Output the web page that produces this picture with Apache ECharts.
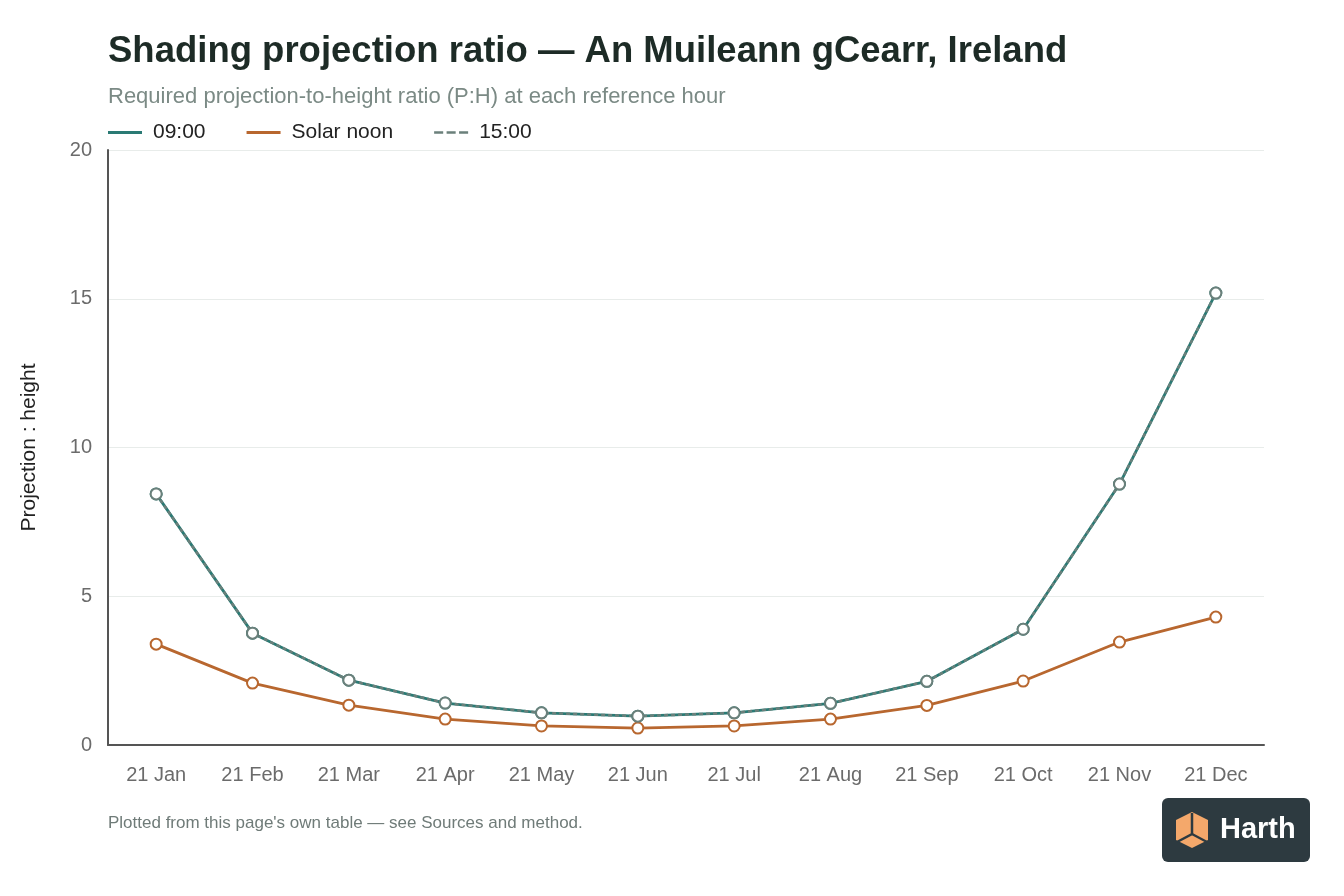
<!DOCTYPE html>
<html>
<head>
<meta charset="utf-8">
<script src="https://cdn.jsdelivr.net/npm/echarts@6/dist/echarts.min.js"></script>
<style>
html,body{margin:0;padding:0;background:#fff;}
#chart{width:1344px;height:896px;}
</style>
</head>
<body>
<div id="chart"></div>
<script>
const categories = ['21 Jan','21 Feb','21 Mar','21 Apr','21 May','21 Jun','21 Jul','21 Aug','21 Sep','21 Oct','21 Nov','21 Dec'];
const morning = [8.44, 3.76, 2.18, 1.41, 1.08, 0.97, 1.08, 1.40, 2.14, 3.89, 8.77, 15.19];
const noon = [3.39, 2.08, 1.34, 0.87, 0.64, 0.57, 0.64, 0.87, 1.33, 2.15, 3.46, 4.30];
const afternoon = [8.44, 3.76, 2.18, 1.41, 1.08, 0.97, 1.08, 1.40, 2.14, 3.89, 8.77, 15.19];
const yTicks = [0, 5, 10, 15, 20];

const font = 'Helvetica Neue, Liberation Sans, Arial, sans-serif';
const cMorning = '#2a7a74', cNoon = '#b8672f', cAfternoon = '#6b807b';
const chart = echarts.init(document.getElementById('chart'));
chart.setOption({
  backgroundColor: '#ffffff',
  animation: false,
  title: [{
    text: 'Shading projection ratio — An Muileann gCearr, Ireland',
    left: 108, top: 33, padding: 0,
    textStyle: {fontFamily: font, fontSize: 36.5, fontWeight: 'bold', color: '#1d2b26'}
  }, {
    text: 'Required projection-to-height ratio (P:H) at each reference hour',
    left: 108, top: 86, padding: 0,
    textStyle: {fontFamily: font, fontSize: 22, fontWeight: 'normal', color: '#7b8a85'}
  }, {
    text: "Plotted from this page's own table — see Sources and method.",
    left: 108, top: 815, padding: 0,
    textStyle: {fontFamily: font, fontSize: 17, fontWeight: 'normal', color: '#6f7b78'}
  }],
  legend: {
    left: 108, top: 122, padding: 0,
    itemWidth: 34, itemHeight: 3, itemGap: 41,
    textStyle: {fontFamily: font, fontSize: 21, color: '#222', padding: [0, 0, 0, 6]},
    data: [
      {name: '09:00', icon: 'rect', itemStyle: {color: cMorning, borderWidth: 0}},
      {name: 'Solar noon', icon: 'rect', itemStyle: {color: cNoon, borderWidth: 0}},
      {name: '15:00', icon: 'path://M0,0h8v2h-8z M11,0h8v2h-8z M22,0h8v2h-8z', itemStyle: {color: cAfternoon, borderWidth: 0}}
    ]
  },
  grid: {left: 108, right: 80, top: 150, bottom: 151},
  xAxis: {
    type: 'category',
    data: categories,
    boundaryGap: true,
    axisLine: {lineStyle: {color: '#555', width: 2}},
    axisTick: {show: false},
    axisLabel: {fontFamily: font, fontSize: 20, color: '#6b6b6b', margin: 20}
  },
  yAxis: {
    type: 'value',
    min: 0, max: 20, interval: 5,
    name: 'Projection : height',
    nameLocation: 'middle',
    nameGap: 68,
    nameTextStyle: {fontFamily: font, fontSize: 21, color: '#222'},
    axisLine: {show: true, lineStyle: {color: '#555', width: 2}},
    axisTick: {show: false},
    axisLabel: {fontFamily: font, fontSize: 20, color: '#6b6b6b', margin: 16,
      formatter: v => yTicks.includes(v) ? String(v) : ''},
    splitLine: {lineStyle: {color: '#e8ecea', width: 1}}
  },
  series: [{
    name: '09:00', type: 'line', data: morning,
    color: cMorning,
    lineStyle: {width: 2.8, color: cMorning},
    symbol: 'circle', symbolSize: 11,
    itemStyle: {color: '#fff', borderColor: cMorning, borderWidth: 2}
  }, {
    name: 'Solar noon', type: 'line', data: noon,
    color: cNoon,
    lineStyle: {width: 2.8, color: cNoon},
    symbol: 'circle', symbolSize: 11,
    itemStyle: {color: '#fff', borderColor: cNoon, borderWidth: 2}
  }, {
    name: '15:00', type: 'line', data: afternoon,
    color: cAfternoon,
    lineStyle: {width: 2.5, color: cAfternoon, type: [4, 3]},
    symbol: 'circle', symbolSize: 11,
    itemStyle: {color: '#fff', borderColor: cAfternoon, borderWidth: 2}
  }],
  graphic: [{
    type: 'group', left: 1162, top: 798,
    children: [{
      type: 'rect', shape: {x: 0, y: 0, width: 148, height: 64, r: 6},
      style: {fill: '#2d3a40'}
    }, {
      type: 'polygon', shape: {points: [[30,14],[46,22],[46,42],[30,50],[14,42],[14,22]]},
      style: {fill: '#f4a86b'}
    }, {
      type: 'polyline', shape: {points: [[30,15],[30,36],[15,44]]},
      style: {stroke: '#2d3a40', lineWidth: 2.5, fill: null}
    }, {
      type: 'polyline', shape: {points: [[30,36],[45,44]]},
      style: {stroke: '#2d3a40', lineWidth: 2.5, fill: null}
    }, {
      type: 'text', x: 58, y: 17,
      style: {text: 'Harth', fill: '#ffffff', font: 'bold 29px ' + font}
    }]
  }]
});
</script>
</body>
</html>
